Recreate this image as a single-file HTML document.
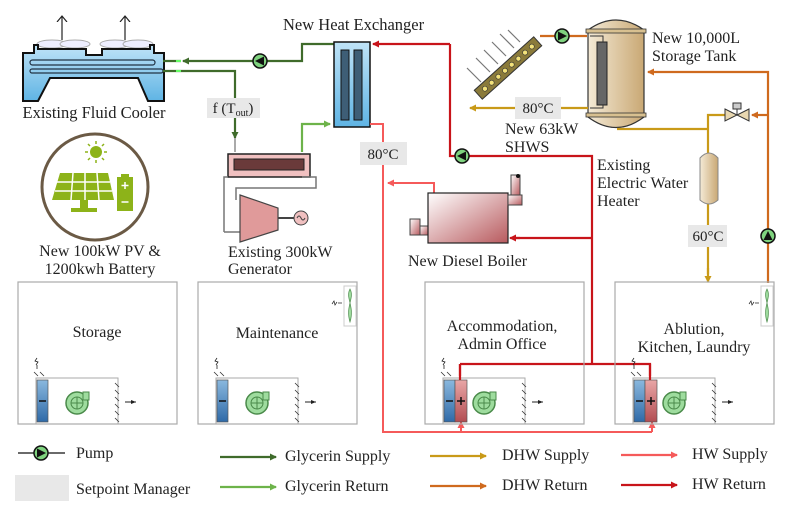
<!DOCTYPE html>
<html><head><meta charset="utf-8"><style>
html,body{margin:0;padding:0;background:#fff}
svg{display:block}
text{font-family:"Liberation Serif",serif;fill:#222}
</style></head><body>
<svg width="795" height="513" viewBox="0 0 795 513" xmlns="http://www.w3.org/2000/svg">
<defs>
<marker id="aG" markerWidth="8" markerHeight="8" refX="6" refY="4" orient="auto" markerUnits="userSpaceOnUse"><path d="M0,0.5 L7,4 L0,7.5z" fill="#3f6b2b"/></marker>
<marker id="aL" markerWidth="8" markerHeight="8" refX="6" refY="4" orient="auto" markerUnits="userSpaceOnUse"><path d="M0,0.5 L7,4 L0,7.5z" fill="#6db34a"/></marker>
<marker id="aY" markerWidth="8" markerHeight="8" refX="6" refY="4" orient="auto" markerUnits="userSpaceOnUse"><path d="M0,0.5 L7,4 L0,7.5z" fill="#c99a18"/></marker>
<marker id="aO" markerWidth="8" markerHeight="8" refX="6" refY="4" orient="auto" markerUnits="userSpaceOnUse"><path d="M0,0.5 L7,4 L0,7.5z" fill="#cf6a1e"/></marker>
<marker id="aP" markerWidth="8" markerHeight="8" refX="6" refY="4" orient="auto" markerUnits="userSpaceOnUse"><path d="M0,0.5 L7,4 L0,7.5z" fill="#f55a5a"/></marker>
<marker id="aR" markerWidth="8" markerHeight="8" refX="6" refY="4" orient="auto" markerUnits="userSpaceOnUse"><path d="M0,0.5 L7,4 L0,7.5z" fill="#c8141a"/></marker>
<marker id="aK" markerWidth="6" markerHeight="6" refX="5" refY="3" orient="auto" markerUnits="userSpaceOnUse"><path d="M0,1 L5,3 L0,5z" fill="#222"/></marker>
<marker id="aT" markerWidth="12" markerHeight="12" refX="6" refY="6" orient="auto" markerUnits="userSpaceOnUse"><path d="M0,1 L6,6 L0,11" fill="none" stroke="#222" stroke-width="1.2"/></marker>
<linearGradient id="gB" x1="0" y1="0" x2="0" y2="1"><stop offset="0" stop-color="#bfe3f7"/><stop offset="1" stop-color="#5fb4e4"/></linearGradient>
<linearGradient id="gT" x1="0" y1="0" x2="1" y2="0"><stop offset="0" stop-color="#f4ead6"/><stop offset="1" stop-color="#c9a874"/></linearGradient>
<linearGradient id="gR" x1="0" y1="0" x2="1" y2="1"><stop offset="0" stop-color="#fff"/><stop offset="1" stop-color="#b85a5e"/></linearGradient>
<linearGradient id="gC" x1="0" y1="0" x2="0" y2="1"><stop offset="0" stop-color="#8ab8de"/><stop offset="1" stop-color="#2f6aa8"/></linearGradient>
<linearGradient id="gH" x1="0" y1="0" x2="0" y2="1"><stop offset="0" stop-color="#e9a6a6"/><stop offset="1" stop-color="#b24d52"/></linearGradient>
<g id="pumpL"><circle r="7" fill="#7fd37f" stroke="#111" stroke-width="1.5"/><path d="M4,-4.5 L-5,0 L4,4.5z" fill="#111"/></g>
<g id="fanU"><circle r="11" fill="#9edc9e" stroke="#4a8a4a" stroke-width="1.5"/><circle r="6" fill="none" stroke="#4a8a4a"/><path d="M-6,0 L6,0 M0,-6 L0,6" stroke="#4a8a4a"/><rect x="6" y="-11" width="6" height="8" fill="#9edc9e" stroke="#4a8a4a"/></g>
<g id="hatch" stroke="#333" stroke-width="0.8"><path d="M0,0 l4,4 M0,7 l4,4 M0,14 l4,4 M0,21 l4,4 M0,28 l4,4 M0,35 l4,4"/></g>
<g id="ahu">
 <path d="M0,96 L0,142 L82,142 L82,96 Z" fill="none" stroke="#aaa"/>
 <path d="M-2,90 l4,4 M4,90 l4,4" stroke="#333" stroke-width="0.8"/>
 <path d="M1,76 l-2,3 l3,1 l-2,3 M1,83 l0,4" stroke="#222" stroke-width="0.8" fill="none"/>
 <rect x="1" y="98" width="11" height="42" fill="url(#gC)" stroke="#555" stroke-width="0.7"/>
 <path d="M3,119 h7" stroke="#111" stroke-width="1.5"/>
 <use href="#hatch" x="79" y="101"/>
 <line x1="89" y1="120" x2="100" y2="120" stroke="#222" marker-end="url(#aK)"/>
</g>
<g id="room"><rect x="0" y="0" width="159" height="142" fill="none" stroke="#aaa" stroke-width="1.2"/></g>
<g id="wfan"><rect x="0" y="0" width="12" height="40" fill="#fff" stroke="#ccc"/><path d="M6,3 C11,12 1,20 6,36 C11,20 1,12 6,3Z" fill="#9edc9e" stroke="#4a8a4a" stroke-width="0.7"/><path d="M-12,18 l2,-3 l1,4 l2,-3 M-6,17 h4" stroke="#222" stroke-width="0.7" fill="none"/></g>
</defs>

<!-- Fluid cooler -->
<path d="M62,40 V16" stroke="#222" stroke-width="1.2" marker-end="url(#aT)"/>
<path d="M125,40 V16" stroke="#222" stroke-width="1.2" marker-end="url(#aT)"/>
<ellipse cx="52" cy="44" rx="15" ry="4" fill="#eef" stroke="#aaa"/><ellipse cx="75" cy="44" rx="15" ry="4" fill="#eef" stroke="#aaa"/>
<ellipse cx="115" cy="44" rx="15" ry="4" fill="#eef" stroke="#aaa"/><ellipse cx="138" cy="44" rx="15" ry="4" fill="#eef" stroke="#aaa"/>
<path d="M23,101 V53 H34 V45 H38 V49 H86 V55 H102 V49 H150 V45 H154 V53 H164 V101 H148 L138,78 H50 L38,101 Z" fill="url(#gB)" stroke="#111" stroke-width="2"/>
<rect x="30" y="60" width="125" height="5" rx="2.5" fill="none" stroke="#234" stroke-width="1.2"/>
<rect x="30" y="69" width="133" height="4" rx="2" fill="none" stroke="#234" stroke-width="1.2"/>
<text x="94" y="118" font-size="16.5" text-anchor="middle">Existing Fluid Cooler</text>

<!-- PV -->
<circle cx="95" cy="187" r="53" fill="#fff" stroke="#6b5a45" stroke-width="3"/>
<circle cx="96" cy="152" r="6" fill="#8db319"/>
<g stroke="#8db319" stroke-width="1.5"><path d="M96,141v3 M96,160v3 M85,152h3 M104,152h3 M88,144l2,2 M102,158l2,2 M104,144l-2,2 M88,160l2,-2"/></g>
<path d="M60,173 H108 L114,200 H52 Z" fill="#8db319"/>
<g stroke="#fff" stroke-width="1.5"><path d="M57,182 H110 M55,191 H112 M73,173 L71,200 M85,173 V200 M97,173 L99,200"/></g>
<rect x="80" y="200" width="8" height="10" fill="#8db319"/><rect x="71" y="208" width="26" height="4" fill="#8db319"/>
<rect x="117" y="177" width="16" height="34" fill="#8db319"/><rect x="121" y="174" width="8" height="4" fill="#8db319"/>
<path d="M125,182v7 M121.5,185.5h7 M121.5,202h7" stroke="#fff" stroke-width="1.5"/>
<text x="100" y="256" font-size="16" text-anchor="middle">New 100kW PV &amp;</text>
<text x="100" y="274" font-size="16" text-anchor="middle">1200kwh Battery</text>

<!-- glycerin lines -->
<path d="M335,44 H302 V61 H183" fill="none" stroke="#3f6b2b" stroke-width="2.2" marker-end="url(#aG)"/>
<path d="M163,61 H181" stroke="#3f6b2b" stroke-width="2.2"/>
<path d="M163,71 H235 V138" fill="none" stroke="#3f6b2b" stroke-width="2.2" marker-end="url(#aG)"/>
<path d="M176,61h5 M176,71h5" stroke="#6f6" stroke-width="2"/>
<path d="M235,138 V152" stroke="#555" stroke-width="1"/>
<use href="#pumpL" x="260" y="61"/>
<path d="M302,152 V124 H330" fill="none" stroke="#6db34a" stroke-width="2.2" marker-end="url(#aL)"/>
<rect x="207" y="98" width="53" height="20" fill="#e8e8e8"/>
<text x="233" y="113" font-size="15" text-anchor="middle">f (T<tspan font-size="10" dy="3">out</tspan><tspan dy="-3">)</tspan></text>

<!-- generator -->
<rect x="228" y="154" width="82" height="23" fill="#f0c0c0" stroke="#222" stroke-width="1.5"/>
<rect x="234" y="159" width="70" height="11" fill="#6a3a3a" stroke="#222"/>
<path d="M302,177 H316 V188 H236 V200 M224,232 V177 H228 M224,232 H240" fill="none" stroke="#777" stroke-width="1.5"/>
<path d="M240,195 L278,208 V230 L240,242 Z" fill="#e09a9a" stroke="#444" stroke-width="1.2"/>
<path d="M278,218 H294" stroke="#444" stroke-width="2"/>
<circle cx="301" cy="218" r="7" fill="#f0c0c0" stroke="#444"/>
<path d="M297,218 q2,-4 4,0 q2,4 4,0" fill="none" stroke="#444"/>
<text x="228" y="257" font-size="16">Existing 300kW</text>
<text x="228" y="274" font-size="16">Generator</text>

<!-- heat exchanger -->
<text x="283" y="30" font-size="16.5">New Heat Exchanger</text>
<rect x="334" y="42" width="36" height="85" fill="url(#gB)" stroke="#111" stroke-width="1.5"/>
<rect x="341" y="50" width="8" height="70" fill="#3e5e76" stroke="#111"/>
<rect x="354" y="50" width="8" height="70" fill="#3e5e76" stroke="#111"/>

<!-- HW return (dark red) -->
<path d="M450,44 H373" fill="none" stroke="#c8141a" stroke-width="2.2" marker-end="url(#aR)"/>
<path d="M450,44 V156 H592 V364 M592,238 H512" fill="none" stroke="#c8141a" stroke-width="2.2"/>
<path d="M520,238 H510" stroke="#c8141a" stroke-width="2.2" marker-end="url(#aR)"/>
<path d="M460,364 H650 V376 M460,364 V376" fill="none" stroke="#c8141a" stroke-width="2.2"/>
<use href="#pumpL" x="462" y="156"/>

<!-- HW supply (pink) -->
<path d="M370,124 H383 V432 H652 M461,432 V421 M652,432 V421" fill="none" stroke="#f55a5a" stroke-width="2"/>
<path d="M461,430 V422" stroke="#f55a5a" stroke-width="2" marker-end="url(#aP)"/>
<path d="M652,430 V422" stroke="#f55a5a" stroke-width="2" marker-end="url(#aP)"/>
<path d="M434,193 V183 H388" fill="none" stroke="#f55a5a" stroke-width="2" marker-end="url(#aP)"/>
<rect x="360" y="142" width="47" height="23" fill="#e8e8e8"/>
<text x="383" y="159" font-size="15" text-anchor="middle">80°C</text>

<!-- boiler -->
<rect x="410" y="219" width="10" height="16" fill="url(#gR)" stroke="#444"/>
<rect x="420" y="226" width="8" height="9" fill="url(#gR)" stroke="#444"/>
<rect x="428" y="193" width="80" height="50" fill="url(#gR)" stroke="#222" stroke-width="1.2"/>
<rect x="508" y="195" width="14" height="10" fill="url(#gR)" stroke="#444"/>
<rect x="511" y="175" width="9" height="20" fill="url(#gR)" stroke="#444"/>
<circle cx="518" cy="176" r="2" fill="#111"/>
<text x="408" y="266" font-size="16">New Diesel Boiler</text>

<!-- solar collector -->
<g stroke="#777" stroke-width="1.2">
<path d="M467,68 l14,14 M476,58 l14,14 M484,50 l14,14 M492,42 l14,14 M500,34 l14,14 M508,30 l12,12"/>
</g>
<g transform="translate(508,68) rotate(-42)">
<rect x="-40" y="-6" width="80" height="12" fill="#8a7a3a" stroke="#333"/>
<g fill="#f3e27a" stroke="#333" stroke-width="0.6"><circle cx="-31" cy="0" r="2.5"/><circle cx="-22" cy="0" r="2.5"/><circle cx="-13" cy="0" r="2.5"/><circle cx="-4" cy="0" r="2.5"/><circle cx="5" cy="0" r="2.5"/><circle cx="14" cy="0" r="2.5"/><circle cx="23" cy="0" r="2.5"/><circle cx="32" cy="0" r="2.5"/></g>
</g>
<path d="M540,36 H587" stroke="#cf6a1e" stroke-width="2.2"/>
<g transform="translate(562,36) rotate(180)"><use href="#pumpL"/></g>

<!-- storage tank -->
<path d="M588,30 Q616,10 644,30 V117 Q616,138 588,117 Z" fill="url(#gT)" stroke="#333" stroke-width="1.2"/>
<rect x="586" y="29" width="60" height="4" fill="#d8c090" stroke="#333" stroke-width="0.8"/>
<rect x="586" y="113" width="60" height="4" fill="#d8c090" stroke="#333" stroke-width="0.8"/>
<rect x="597" y="42" width="10" height="63" fill="#666" stroke="#222"/>
<path d="M590,36 H603 V42 M603,105 V108 H590" fill="none" stroke="#333"/>
<text x="652" y="43" font-size="16">New 10,000L</text>
<text x="652" y="61" font-size="16">Storage Tank</text>

<!-- DHW lines -->
<path d="M588,108 H470" fill="none" stroke="#c99a18" stroke-width="2.2" marker-end="url(#aY)"/>
<rect x="515" y="97" width="46" height="22" fill="#e8e8e8"/>
<text x="538" y="113" font-size="15" text-anchor="middle">80°C</text>
<text x="505" y="134" font-size="16">New 63kW</text>
<text x="505" y="152" font-size="16">SHWS</text>
<path d="M617,129 H708 V115 H725 M708,129 V274" fill="none" stroke="#c99a18" stroke-width="2.2"/>
<path d="M708,268 V282" stroke="#c99a18" stroke-width="2.2" marker-end="url(#aY)"/>
<path d="M768,283 V72 H648" fill="none" stroke="#cf6a1e" stroke-width="2.2" marker-end="url(#aO)"/>
<path d="M768,115 H752" fill="none" stroke="#cf6a1e" stroke-width="2.2" marker-end="url(#aO)"/>
<path d="M725,109 L737,115 L725,121 Z M749,109 L737,115 L749,121 Z" fill="#e8d7b0" stroke="#333"/>
<rect x="733" y="103" width="8" height="6" fill="#ccc" stroke="#333"/><path d="M737,109v6" stroke="#333"/>
<g transform="translate(768,236) rotate(90)"><use href="#pumpL"/></g>
<path d="M700,158 Q709,148 718,158 V200 Q709,208 700,200 Z" fill="url(#gT)" stroke="#888"/>
<text x="597" y="170" font-size="16">Existing</text>
<text x="597" y="188" font-size="16">Electric Water</text>
<text x="597" y="206" font-size="16">Heater</text>
<rect x="688" y="225" width="39" height="22" fill="#e8e8e8"/>
<text x="708" y="241" font-size="15" text-anchor="middle">60°C</text>

<!-- rooms -->
<use href="#room" x="18" y="282"/>
<use href="#room" x="198" y="282"/>
<use href="#room" x="425" y="282"/>
<use href="#room" x="615" y="282"/>
<text x="97" y="337" font-size="16" text-anchor="middle">Storage</text>
<text x="277" y="338" font-size="16" text-anchor="middle">Maintenance</text>
<text x="502" y="331" font-size="16" text-anchor="middle">Accommodation,</text>
<text x="502" y="349" font-size="16" text-anchor="middle">Admin Office</text>
<text x="694" y="334" font-size="16" text-anchor="middle">Ablution,</text>
<text x="694" y="352" font-size="16" text-anchor="middle">Kitchen, Laundry</text>
<use href="#ahu" x="36" y="282"/>
<use href="#ahu" x="216" y="282"/>
<use href="#ahu" x="443" y="282"/>
<use href="#ahu" x="633" y="282"/>
<use href="#fanU" x="77" y="403"/>
<use href="#fanU" x="257" y="403"/>
<use href="#fanU" x="484" y="403"/>
<use href="#fanU" x="674" y="403"/>
<rect x="455" y="380" width="12" height="42" fill="url(#gH)" stroke="#555" stroke-width="0.7"/>
<path d="M457,401 h8 M461,397 v8" stroke="#111" stroke-width="1.5"/>
<rect x="645" y="380" width="12" height="42" fill="url(#gH)" stroke="#555" stroke-width="0.7"/>
<path d="M647,401 h8 M651,397 v8" stroke="#111" stroke-width="1.5"/>
<path d="M460,364 V380 M650,364 V380" stroke="#c8141a" stroke-width="2.2"/>
<use href="#wfan" x="344" y="286"/>
<use href="#wfan" x="761" y="286"/>

<!-- legend -->
<path d="M18,453 H65" stroke="#111" stroke-width="1.2"/>
<g transform="translate(41,453) rotate(180)"><use href="#pumpL"/></g>
<text x="76" y="458" font-size="16">Pump</text>
<rect x="15" y="475" width="54" height="26" fill="#e8e8e8"/>
<text x="76" y="494" font-size="16">Setpoint Manager</text>
<path d="M220,457 H276" stroke="#3f6b2b" stroke-width="2.2" marker-end="url(#aG)"/>
<text x="285" y="461" font-size="16">Glycerin Supply</text>
<path d="M220,487 H276" stroke="#6db34a" stroke-width="2.2" marker-end="url(#aL)"/>
<text x="285" y="491" font-size="16">Glycerin Return</text>
<path d="M430,456 H486" stroke="#c99a18" stroke-width="2.2" marker-end="url(#aY)"/>
<text x="502" y="460" font-size="16">DHW Supply</text>
<path d="M430,486 H486" stroke="#cf6a1e" stroke-width="2.2" marker-end="url(#aO)"/>
<text x="502" y="490" font-size="16">DHW Return</text>
<path d="M621,455 H677" stroke="#f55a5a" stroke-width="2.2" marker-end="url(#aP)"/>
<text x="692" y="459" font-size="16">HW Supply</text>
<path d="M621,485 H677" stroke="#c8141a" stroke-width="2.2" marker-end="url(#aR)"/>
<text x="692" y="489" font-size="16">HW Return</text>
</svg>
</body></html>
